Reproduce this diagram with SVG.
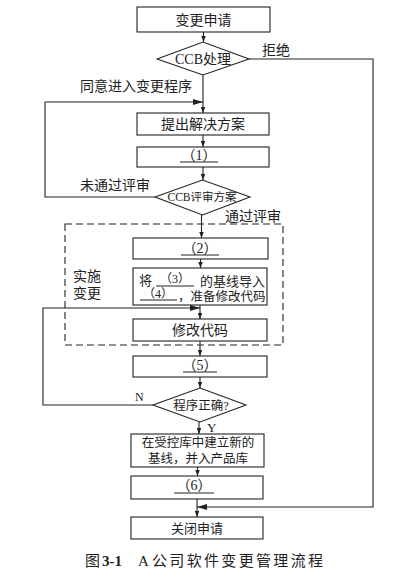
<svg xmlns="http://www.w3.org/2000/svg" width="410" height="582" viewBox="0 0 410 582">
<style>
.b{fill:#fff;stroke:#222;stroke-width:1.1}
.c{fill:none;stroke:#222;stroke-width:1.1}
.t{font-family:"Liberation Serif","Noto Sans CJK SC",serif;fill:#222;font-size:14px}
.m{text-anchor:middle}
.u{stroke:#222;stroke-width:1}
</style>
<defs>
<marker id="a" viewBox="0 0 8 6" refX="8" refY="3" markerWidth="6" markerHeight="4.5" orient="auto" markerUnits="userSpaceOnUse"><path d="M0,0L8,3L0,6z" fill="#222"/></marker>
<marker id="A" viewBox="0 0 10 6" refX="10" refY="3" markerWidth="11" markerHeight="6" orient="auto" markerUnits="userSpaceOnUse"><path d="M0,0L10,3L0,6z" fill="#222"/></marker>
</defs>
<rect width="410" height="582" fill="#fff"/>
<g id="connectors">
<line class="c" x1="203.5" y1="32" x2="203.5" y2="42" marker-end="url(#a)"/>
<line class="c" x1="203" y1="75" x2="203" y2="113" marker-end="url(#a)"/>
<polyline class="c" points="155,197 45,197 45,102 203,102" marker-end="url(#A)"/>
<line class="c" x1="203" y1="135" x2="203" y2="147" marker-end="url(#a)"/>
<line class="c" x1="203" y1="167" x2="203" y2="180" marker-end="url(#a)"/>
<line class="c" x1="201.5" y1="215" x2="201.5" y2="238" marker-end="url(#a)"/>
<line class="c" x1="200.5" y1="259" x2="200.5" y2="268" marker-end="url(#a)"/>
<line class="c" x1="200" y1="305" x2="200" y2="319" marker-end="url(#a)"/>
<polyline class="c" points="153,405 43,405 43,308 200,308" marker-end="url(#A)"/>
<line class="c" x1="200" y1="341" x2="200" y2="356" marker-end="url(#a)"/>
<line class="c" x1="200" y1="377" x2="200" y2="388" marker-end="url(#a)"/>
<line class="c" x1="199" y1="422" x2="199" y2="434" marker-end="url(#a)"/>
<line class="c" x1="197.5" y1="467" x2="197.5" y2="476" marker-end="url(#a)"/>
<line class="c" x1="197" y1="499" x2="197" y2="517" marker-end="url(#a)"/>
<polyline class="c" points="249,59 373,59 373,507 197,507" marker-end="url(#A)"/>
<text class="t" x="262" y="55">拒绝</text>
<text class="t" x="80" y="91">同意进入变更程序</text>
<text class="t" x="80" y="190">未通过评审</text>
<text class="t" x="225" y="221">通过评审</text>
<text class="t" x="135" y="401" style="font-size:12px">N</text>
<text class="t" x="207" y="432" style="font-size:13px">Y</text>
</g>
<g id="change-area">
<rect x="65" y="224" width="218" height="121" fill="none" stroke="#222" stroke-width="1.1" stroke-dasharray="7,4"/>
<text class="t" x="73" y="281">实施</text>
<text class="t" x="73" y="298">变更</text>
</g>
<g id="n1"><rect class="b" x="137" y="7" width="133" height="25"/><text class="t m" x="203.5" y="25">变更申请</text></g>
<g id="n2"><polygon class="b" points="157,59 203,42 249,59 203,75"/><text class="t m" x="203" y="64">CCB处理</text></g>
<g id="n3"><rect class="b" x="137" y="113" width="132" height="22"/><text class="t m" x="203" y="129">提出解决方案</text></g>
<g id="n4"><rect class="b" x="137" y="147" width="132" height="20"/><text class="t m" x="199" y="160">（1）</text><line class="u" x1="180" y1="162" x2="218" y2="162"/></g>
<g id="n5"><polygon class="b" points="155,197 202.5,180 250,197 202.5,215"/><text class="t m" x="202" y="201" style="font-size:11.5px">CCB评审方案</text></g>
<g id="n6"><rect class="b" x="133" y="238" width="135" height="21"/><text class="t m" x="200" y="253">（2）</text><line class="u" x1="181" y1="255" x2="219" y2="255"/></g>
<g id="n7"><rect class="b" x="133" y="268" width="134" height="37"/>
<text class="t" x="139" y="285" style="font-size:13px">将</text><text class="t m" x="175" y="283" style="font-size:12px">（3）</text><line class="u" x1="156" y1="286" x2="194" y2="286"/><text class="t" x="200" y="286" style="font-size:13px">的基线导入</text>
<text class="t m" x="158" y="298" style="font-size:12px">（4）</text><line class="u" x1="140" y1="300" x2="177" y2="300"/><text class="t" x="178" y="301" style="font-size:12.5px">，准备修改代码</text></g>
<g id="n8"><rect class="b" x="133" y="319" width="134" height="22"/><text class="t m" x="200" y="335">修改代码</text></g>
<g id="n9"><rect class="b" x="133" y="356" width="134" height="21"/><text class="t m" x="200" y="370">（5）</text><line class="u" x1="183" y1="372" x2="217" y2="372"/></g>
<g id="n10"><polygon class="b" points="153,405 200,388 246,405 200,422"/><text class="t m" x="201" y="410" style="font-size:12.5px">程序正确?</text></g>
<g id="n11"><rect class="b" x="131" y="434" width="133" height="33"/><text class="t m" x="198" y="447" style="font-size:12.5px">在受控库中建立新的</text><text class="t m" x="198" y="463" style="font-size:12.5px">基线，并入产品库</text></g>
<g id="n12"><rect class="b" x="131" y="476" width="132" height="23"/><text class="t m" x="194" y="490">（6）</text><line class="u" x1="174" y1="493" x2="214" y2="493"/></g>
<g id="n13"><rect class="b" x="131" y="517" width="132" height="22"/><text class="t m" x="197" y="533" style="font-size:13px">关闭申请</text></g>
<g id="caption" class="t" style="font-size:15px">
<text x="85" y="566">图</text><text x="102" y="566" style="font-weight:bold">3-1</text><text x="138" y="566">A</text><text x="152" y="566" textLength="171" lengthAdjust="spacing">公司软件变更管理流程</text>
</g>
</svg>
